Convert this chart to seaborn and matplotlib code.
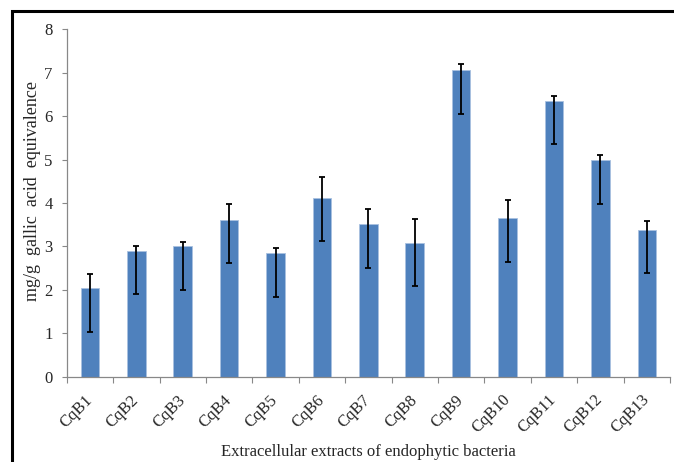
import matplotlib
matplotlib.use("Agg")
import matplotlib.pyplot as plt
import seaborn as sns
import pandas as pd
from matplotlib.patches import Rectangle
from matplotlib.ticker import FixedLocator

categories = ["CqB1", "CqB2", "CqB3", "CqB4", "CqB5", "CqB6", "CqB7",
              "CqB8", "CqB9", "CqB10", "CqB11", "CqB12", "CqB13"]
values = [2.04, 2.90, 3.00, 3.61, 2.84, 4.12, 3.51, 3.09, 7.06, 3.65, 6.35, 4.98, 3.38]
err_up = [0.32, 0.12, 0.11, 0.37, 0.13, 0.48, 0.35, 0.54, 0.13, 0.41, 0.11, 0.13, 0.20]
err_low = [1.0, 1.0, 1.0, 1.0, 1.0, 1.0, 1.0, 1.0, 1.0, 1.0, 1.0, 1.0, 1.0]
y_ticks = [0, 1, 2, 3, 4, 5, 6, 7, 8]

df = pd.DataFrame({"isolate": categories, "value": values})

sns.set_style("white")
plt.rcParams["font.family"] = ["Liberation Serif", "DejaVu Serif"]

W, H = 674, 462
fig = plt.figure(figsize=(W / 100, H / 100), dpi=100)
ax = fig.add_axes([66.7 / W, (H - 376.7) / H, (670 - 66.7) / W, (376.7 - 29.3) / H])

sns.barplot(data=df, x="isolate", y="value", color="#4F81BD", width=0.4,
            errorbar=None, ax=ax, saturation=1, edgecolor="#A9C1E0", linewidth=0.6)
ax.errorbar(range(len(categories)), values, yerr=[err_low, err_up], fmt="none",
            ecolor="black", elinewidth=1.3, capsize=2.2, capthick=1.3)

ax.set_xlim(-0.5, len(categories) - 0.5)
ax.set_ylim(0, 8)
ax.set_yticks(y_ticks)
ax.tick_params(axis="y", labelsize=12, length=3.6, width=0.8, color="#888888", pad=6.5, left=True)
ax.set_xticks(range(len(categories)))
ax.set_xticklabels(categories, rotation=45, ha="right", va="center", rotation_mode="anchor", fontsize=12)
ax.tick_params(axis="x", which="major", length=0, pad=15)
ax.xaxis.set_minor_locator(FixedLocator([i - 0.5 for i in range(len(categories) + 1)]))
ax.tick_params(axis="x", which="minor", length=4.5, width=0.8, color="#888888", bottom=True)

for s in ["top", "right"]:
    ax.spines[s].set_visible(False)
for s in ["left", "bottom"]:
    ax.spines[s].set_color("#888888")
    ax.spines[s].set_linewidth(0.9)

ax.set_xlabel("")
ax.set_ylabel("")
fig.text(32.5 / W, 1 - 191 / H, "mg/g  gallic  acid  equivalence", rotation=90,
         ha="center", va="center", fontsize=13)
fig.text(368 / W, 1 - 456 / H, "Extracellular extracts of endophytic bacteria",
         ha="center", va="baseline", fontsize=12)

fig.patches.append(Rectangle((12.5 / W, -0.1), 1.2, 1.1 - 11 / H, transform=fig.transFigure,
                             fill=False, edgecolor="black", linewidth=2.2))

fig.savefig("out.png", dpi=100)
